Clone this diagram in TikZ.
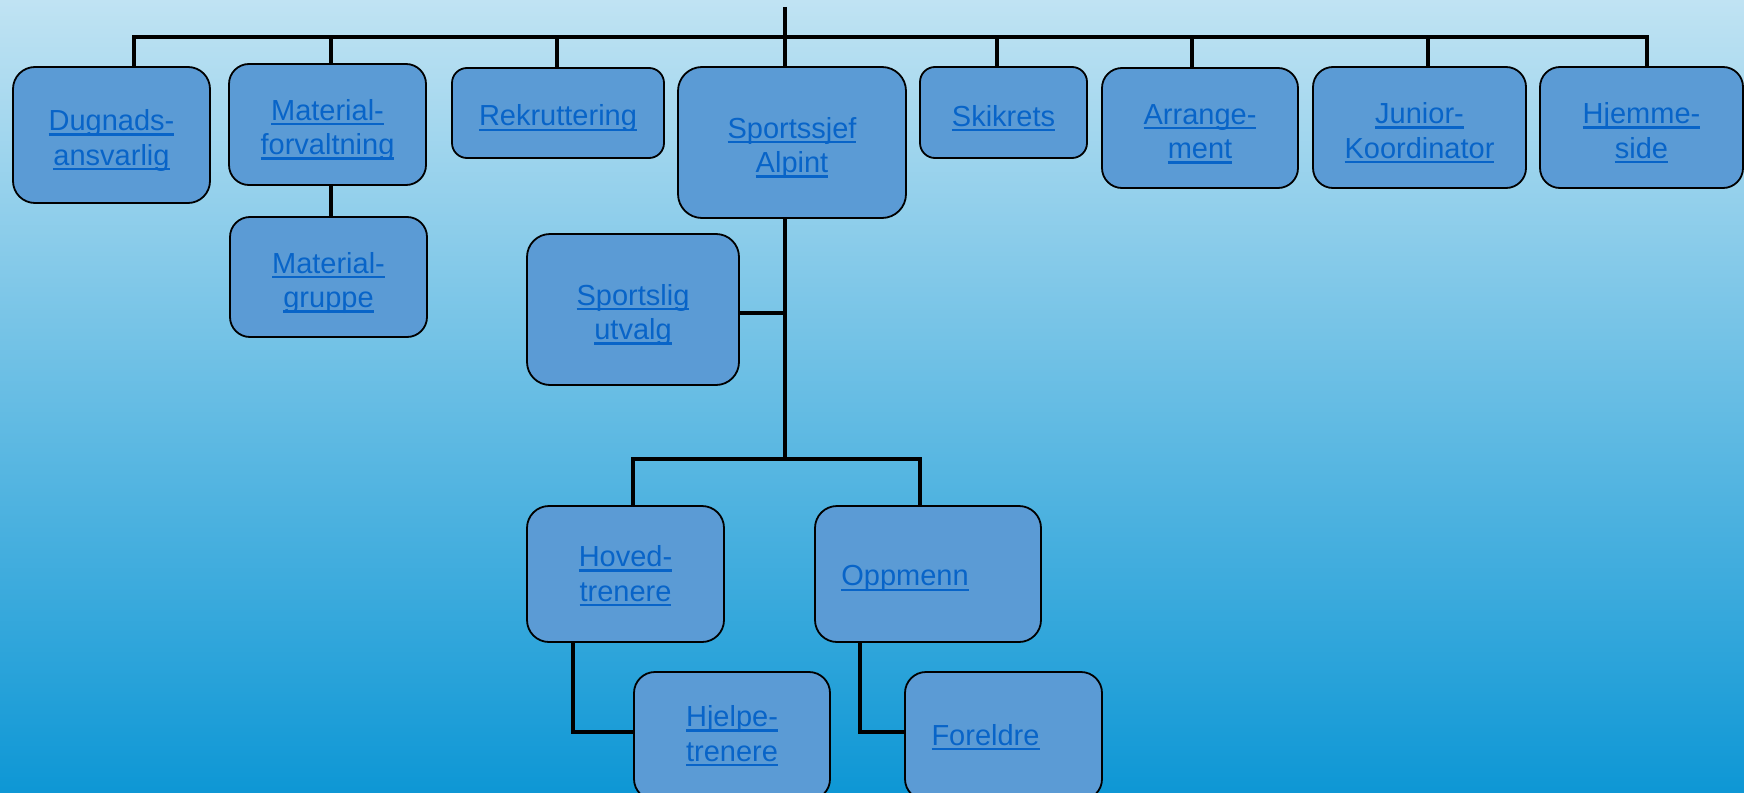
\documentclass[tikz,border=0pt]{standalone}
\usepackage{fontspec}
\setmainfont{Liberation Sans}
\definecolor{boxfill}{RGB}{91,155,213}
\definecolor{lnkcol}{RGB}{8,100,200}
\definecolor{bgtop}{RGB}{192,227,243}
\definecolor{bgbot}{RGB}{14,151,213}
\newcommand\lnk[1]{\setbox0\hbox{#1}\rlap{\rule[-5pt]{\wd0}{2.3pt}}\box0}
\newcommand\dn[1]{\rule{0pt}{#1pt}}
\begin{document}
\begin{tikzpicture}[x=1pt,y=-1pt,
  box/.style={draw=black, line width=1.8pt, fill=boxfill, inner sep=0pt,
    align=center, font=\fontsize{29}{34.5}\selectfont, text=lnkcol},
  conn/.style={line width=4.2pt, draw=black, line join=miter}]
\useasboundingbox (0,0) rectangle (1744,792);
\clip (0,0) rectangle (1744,792);
\shade[top color=bgtop, bottom color=bgbot] (0,0) rectangle (1744,792);

% top row
\node[box, minimum width=197pt, minimum height=136pt, rounded corners=22pt] (dug) at (111.5,135) {\dn{32}\lnk{Dugnads-}\\\lnk{ansvarlig}};
\node[box, minimum width=197pt, minimum height=121pt, rounded corners=20pt] (matf) at (327.5,124.5) {\dn{32}\lnk{Material-}\\\lnk{forvaltning}};
\node[box, minimum width=197pt, minimum height=120pt, rounded corners=20pt] (matg) at (328.5,277) {\dn{33}\lnk{Material-}\\\lnk{gruppe}};
\node[box, minimum width=212pt, minimum height=90pt, rounded corners=15pt] (rek) at (558,113) {\dn{32}\lnk{Rekruttering}};
\node[box, minimum width=228pt, minimum height=151pt, rounded corners=24pt] (spo) at (792,142.5) {\dn{32}\lnk{Sportssjef}\\\lnk{Alpint}};
\node[box, minimum width=167pt, minimum height=91pt, rounded corners=15pt] (skik) at (1003.5,112.5) {\dn{32}\lnk{Skikrets}};
\node[box, minimum width=196pt, minimum height=120pt, rounded corners=20pt] (arr) at (1200,128) {\dn{32}\lnk{Arrange-}\\\lnk{ment}};
\node[box, minimum width=213pt, minimum height=121pt, rounded corners=20pt] (jun) at (1419.5,127.5) {\dn{32}\lnk{Junior-}\\\lnk{Koordinator}};
\node[box, minimum width=203pt, minimum height=121pt, rounded corners=20pt] (hje) at (1641.5,127.5) {\dn{32}\lnk{Hjemme-}\\\lnk{side}};

% lower part
\node[box, minimum width=212pt, minimum height=151pt, rounded corners=23pt] (spu) at (633,309.5) {\dn{32}\lnk{Sportslig}\\\lnk{utvalg}};
\node[box, minimum width=197pt, minimum height=136pt, rounded corners=22pt] (hov) at (625.5,574) {\dn{25}\lnk{Hoved-}\\\lnk{trenere}};
\node[box, minimum width=226pt, minimum height=136pt, rounded corners=22pt] (opp) at (928,574) {\dn{30}\lnk{Oppmenn}\kern46pt};
\node[box, minimum width=196pt, minimum height=128pt, rounded corners=21pt] (hjt) at (732,736) {\lnk{Hjelpe-}\\\lnk{trenere}};
\node[box, minimum width=197pt, minimum height=128pt, rounded corners=21pt] (for) at (1003.5,736) {\dn{23}\lnk{Foreldre}\kern36pt};

% connectors
\coordinate (top) at (785,7);
\coordinate (barL) at (134,37);
\coordinate (barR) at (1647,37);
\coordinate (junc) at (785,459);
\draw[conn] ([xshift=22.5pt]dug.north) |- (barR) -- ([xshift=5.5pt]hje.north);
\foreach \n/\dx in {matf/3.5, rek/-1, skik/-6.5, arr/-8, jun/8.5}
  \draw[conn] ([xshift=\dx pt]\n.north) -- ([xshift=\dx pt]\n.north |- barL);
\draw[conn] (top) -- (spo.north -| top);
\draw[conn] ([xshift=3.5pt]matf.south) -- ([xshift=3.5pt]matf.south |- matg.north);
\draw[conn] (spo.south -| junc) -- (junc);
\draw[conn] ([yshift=-3.5pt]spu.east) -- ([yshift=-3.5pt]spu.east -| junc);
\draw[conn] ([xshift=7.5pt]hov.north) |- (junc) -| ([xshift=-8pt]opp.north);
\draw[conn] ([xshift=-52.5pt]hov.south) |- ([yshift=4pt]hjt.west);
\draw[conn] ([xshift=-68pt]opp.south) |- ([yshift=4pt]for.west);
\end{tikzpicture}
\end{document}
